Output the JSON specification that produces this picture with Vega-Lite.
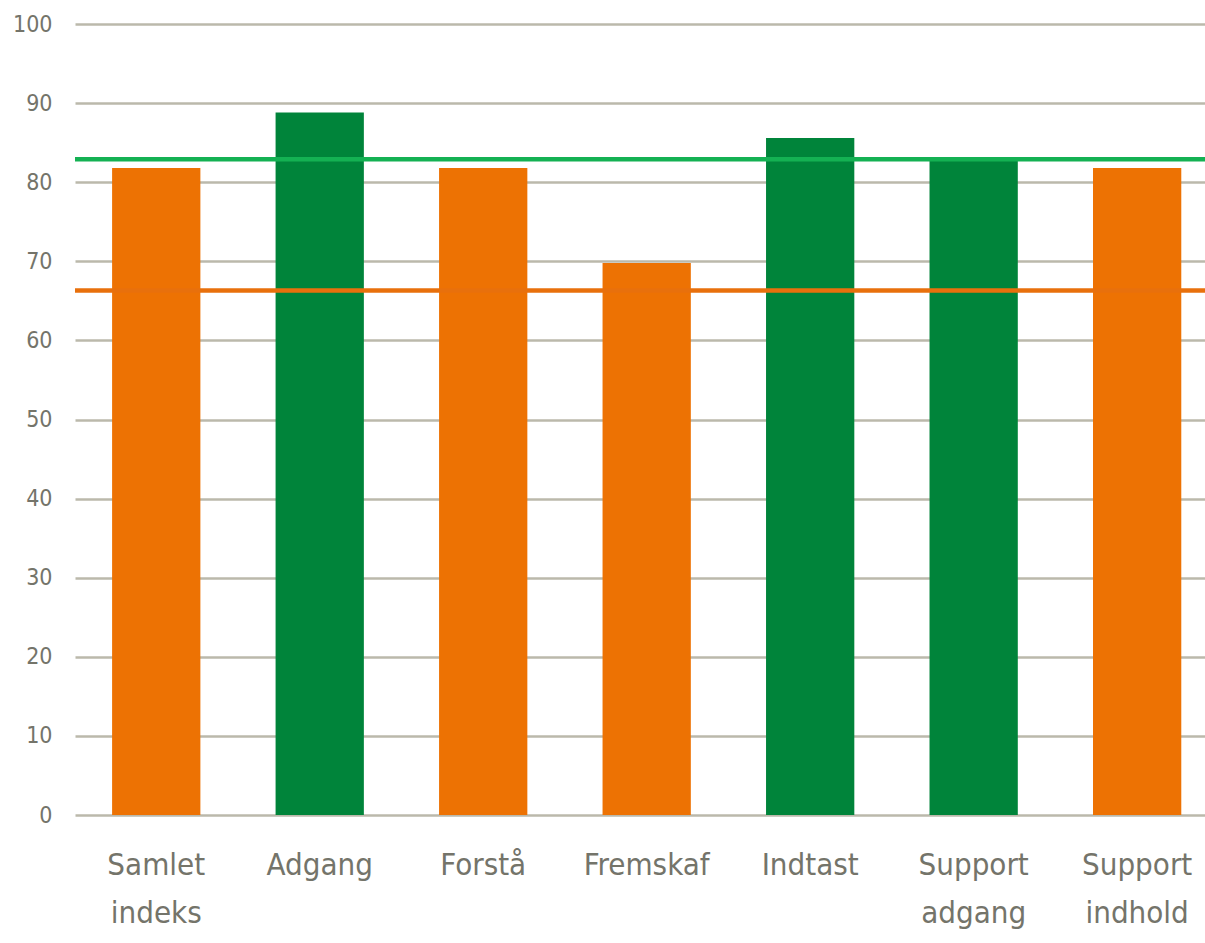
{
  "$schema": "https://vega.github.io/schema/vega-lite/v6.json",
  "width": 1130,
  "height": 791,
  "autosize": {"type": "none"},
  "padding": {"left": 75, "top": 24, "right": 0, "bottom": 128},
  "background": "white",
  "config": {
    "view": {"stroke": null},
    "font": "DejaVu Sans Condensed, sans-serif"
  },
  "datasets": {
    "bars": [
      {"kategori": "Samlet indeks", "score": 81.8, "gruppe": "under"},
      {"kategori": "Adgang", "score": 88.8, "gruppe": "over"},
      {"kategori": "Forstå", "score": 81.8, "gruppe": "under"},
      {"kategori": "Fremskaf", "score": 69.8, "gruppe": "under"},
      {"kategori": "Indtast", "score": 85.6, "gruppe": "over"},
      {"kategori": "Support adgang", "score": 83.2, "gruppe": "over"},
      {"kategori": "Support indhold", "score": 81.8, "gruppe": "under"}
    ],
    "lines": [
      {"niveau": "grøn", "score": 82.9},
      {"niveau": "orange", "score": 66.3}
    ]
  },
  "layer": [
    {
      "data": {"name": "bars"},
      "mark": {"type": "bar"},
      "encoding": {
        "x": {
          "field": "kategori",
          "type": "nominal",
          "sort": null,
          "scale": {"paddingInner": 0.46, "paddingOuter": 0.186, "align": 0.61},
          "axis": {
            "title": null,
            "ticks": false,
            "domain": false,
            "grid": false,
            "labelAngle": 0,
            "labelExpr": "split(datum.label, ' ')",
            "labelFont": "DejaVu Sans Condensed, sans-serif",
            "labelFontSize": 31,
            "labelLineHeight": 48,
            "labelColor": "#74746a",
            "labelPadding": 35,
            "labelBaseline": "top"
          }
        },
        "y": {
          "field": "score",
          "type": "quantitative",
          "scale": {"domain": [0, 100], "nice": false},
          "axis": {
            "title": null,
            "values": [0, 10, 20, 30, 40, 50, 60, 70, 80, 90, 100],
            "ticks": false,
            "domain": false,
            "grid": true,
            "gridColor": "#bbb9ab",
            "gridWidth": 2.4,
            "labelFont": "DejaVu Sans Condensed, sans-serif",
            "labelFontSize": 23,
            "labelColor": "#74746a",
            "labelPadding": 23
          }
        },
        "color": {
          "field": "gruppe",
          "type": "nominal",
          "scale": {"domain": ["under", "over"], "range": ["#ED7203", "#00843A"]},
          "legend": null
        }
      }
    },
    {
      "data": {"name": "lines"},
      "mark": {"type": "rule", "strokeWidth": 4.5},
      "encoding": {
        "y": {"field": "score", "type": "quantitative"},
        "color": {
          "field": "niveau",
          "type": "nominal",
          "scale": {"domain": ["grøn", "orange"], "range": ["#14B153", "#E8700C"]},
          "legend": null
        }
      }
    }
  ],
  "resolve": {"scale": {"color": "independent"}}
}
